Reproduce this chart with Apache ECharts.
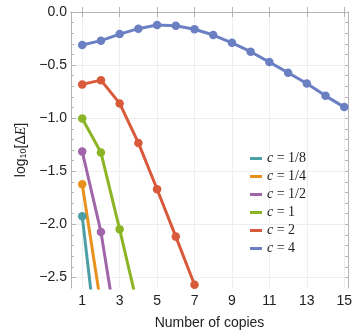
<!DOCTYPE html>
<html>
<head>
<meta charset="utf-8">
<script src="https://cdn.jsdelivr.net/npm/echarts@6/dist/echarts.min.js"></script>
<style>
  html, body { margin: 0; padding: 0; background: #fff; }
  #chart { width: 357px; height: 336px; }
</style>
</head>
<body>
<div id="chart"></div>
<script>
// number of copies (x values)
const copies = [1, 2, 3, 4, 5, 6, 7, 8, 9, 10, 11, 12, 13, 14, 15];

// legend labels (value of c)
const cLabels = ['1/8', '1/4', '1/2', '1', '2', '4'];

// log10[ΔE], one list per c (last points run below the frame)
const logC18 = [-1.925, -3.44];
const logC14 = [-1.623, -2.76];
const logC12 = [-1.314, -2.072, -3.17];
const logC1 = [-1.003, -1.324, -2.047, -2.8];
const logC2 = [-0.682, -0.642, -0.861, -1.233, -1.67, -2.116, -2.57];
const logC4 = [-0.311, -0.27, -0.208, -0.157, -0.123, -0.129, -0.163, -0.217,
  -0.29, -0.374, -0.472, -0.572, -0.673, -0.79, -0.896];

// tick labels
const xTicks = [1, 3, 5, 7, 9, 11, 13, 15];
const yTicks = [0, -0.5, -1, -1.5, -2, -2.5];
const yMinorTicks = [-0.1, -0.2, -0.3, -0.4, -0.6, -0.7, -0.8, -0.9, -1.1, -1.2, -1.3, -1.4,
  -1.6, -1.7, -1.8, -1.9, -2.1, -2.2, -2.3, -2.4];

const colors = ['#4c9fa6', '#e8911f', '#a064a8', '#8bb524', '#d9593b', '#6b7fc3'];
const allValues = [logC18, logC14, logC12, logC1, logC2, logC4];

const frameColor = '#b4b4b4';
const gridColor = '#eeeeee';
const labelFont = 'Liberation Sans';

const chart = echarts.init(document.getElementById('chart'));

const xRange = { min: 0.4, max: 15.2 };
const yRange = { min: -2.6, max: 0 };

const option = {
  animation: false,
  grid: { left: 71, right: 9, top: 12, bottom: 48 },
  legend: {
    orient: 'vertical',
    left: 245,
    top: 146,
    icon: 'rect',
    itemWidth: 12,
    itemHeight: 3,
    itemGap: 3,
    data: cLabels,
    formatter: name => '{i|c} = ' + name,
    textStyle: {
      fontFamily: 'Liberation Serif',
      fontSize: 14,
      lineHeight: 15,
      color: '#222',
      rich: {
        i: { fontFamily: 'Liberation Serif', fontStyle: 'italic', fontSize: 14, color: '#222' }
      }
    }
  },
  xAxis: [
    {
      type: 'value',
      position: 'bottom',
      min: xRange.min,
      max: xRange.max,
      name: 'Number of copies',
      nameLocation: 'middle',
      nameGap: 28,
      nameTextStyle: { fontFamily: labelFont, fontSize: 14, color: '#222' },
      axisLine: { show: true, lineStyle: { color: frameColor, width: 1 } },
      axisTick: { show: true, inside: true, length: 5, customValues: xTicks, lineStyle: { color: frameColor } },
      axisLabel: { customValues: xTicks, margin: 6, fontFamily: labelFont, fontSize: 14, color: '#222' },
      splitLine: { show: true, lineStyle: { color: gridColor, width: 1 } }
    },
    {
      type: 'value',
      position: 'top',
      min: xRange.min,
      max: xRange.max,
      axisLine: { show: true, lineStyle: { color: frameColor, width: 1 } },
      axisTick: { show: true, inside: true, length: 5, customValues: xTicks, lineStyle: { color: frameColor } },
      axisLabel: { show: false },
      splitLine: { show: false }
    }
  ],
  yAxis: [
    {
      type: 'value',
      position: 'left',
      min: yRange.min,
      max: yRange.max,
      name: '{n|log}{s|10}{n|[Δ}{i|E}{n|]}',
      nameLocation: 'middle',
      nameGap: 42,
      nameRotate: 90,
      nameTextStyle: {
        rich: {
          n: { fontFamily: labelFont, fontSize: 14, color: '#222' },
          s: { fontFamily: labelFont, fontSize: 9, color: '#222', verticalAlign: 'bottom', padding: [6, 0, 0, 0] },
          i: { fontFamily: 'Liberation Serif', fontStyle: 'italic', fontSize: 14, color: '#222' }
        }
      },
      axisLine: { show: true, lineStyle: { color: frameColor, width: 1 } },
      axisTick: { show: true, inside: true, length: 5, customValues: yTicks, lineStyle: { color: frameColor } },
      axisLabel: {
        customValues: yTicks,
        margin: 4,
        fontFamily: labelFont,
        fontSize: 14,
        color: '#222',
        formatter: v => (v === 0 ? '0.0' : '\u2212' + Math.abs(v).toFixed(1))
      },
      splitLine: { show: true, lineStyle: { color: gridColor, width: 1 } }
    },
    {
      type: 'value',
      position: 'left',
      min: yRange.min,
      max: yRange.max,
      axisLine: { show: false },
      axisTick: { show: true, inside: true, length: 3, customValues: yMinorTicks, lineStyle: { color: frameColor } },
      axisLabel: { show: false },
      splitLine: { show: false }
    },
    {
      type: 'value',
      position: 'right',
      min: yRange.min,
      max: yRange.max,
      axisLine: { show: true, lineStyle: { color: frameColor, width: 1 } },
      axisTick: { show: true, inside: true, length: 3, customValues: yTicks.concat(yMinorTicks), lineStyle: { color: frameColor } },
      axisLabel: { show: false },
      splitLine: { show: false }
    }
  ],
  series: cLabels.map((name, i) => ({
    name: name,
    type: 'line',
    xAxisIndex: 0,
    yAxisIndex: 0,
    clip: true,
    color: colors[i],
    symbol: 'circle',
    symbolSize: 8.5,
    showAllSymbol: true,
    lineStyle: { width: 3, color: colors[i] },
    itemStyle: { color: colors[i] },
    data: allValues[i].map((v, k) => [copies[k], v])
  }))
};

chart.setOption(option);
</script>
</body>
</html>
